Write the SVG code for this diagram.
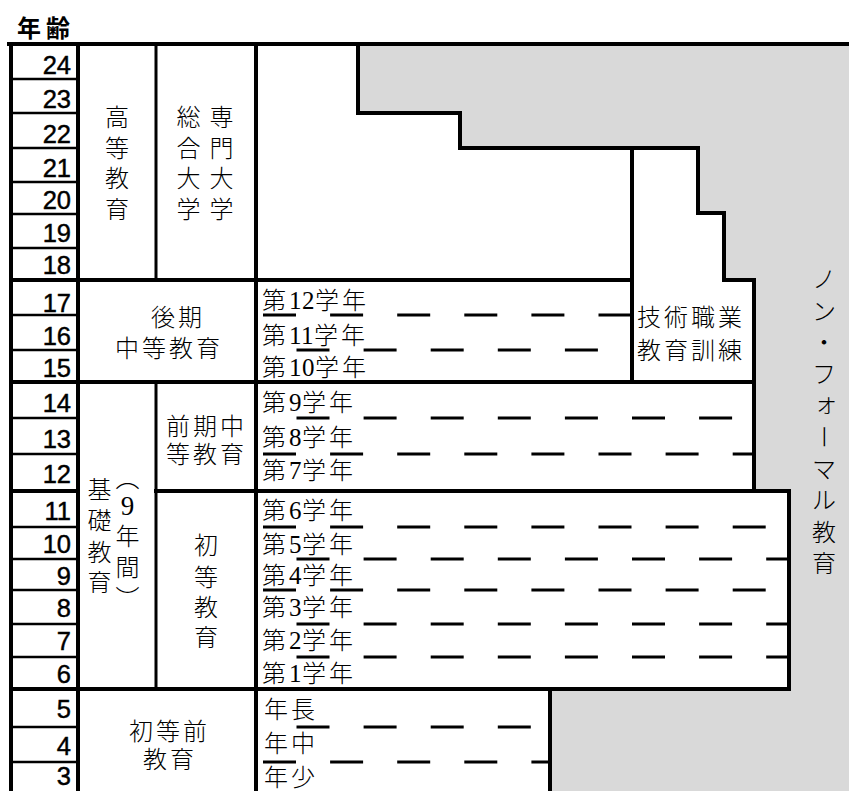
<svg xmlns="http://www.w3.org/2000/svg" width="849" height="791" viewBox="0 0 849 791">
<style>
.jp{font-family:"Liberation Serif","Noto Sans CJK JP",serif;font-size:24px;font-weight:300;letter-spacing:3px;fill:#000}
.d{letter-spacing:0.5px;font-size:25px}
.v{font-family:"Liberation Serif","Noto Sans CJK JP",serif;font-size:24px;font-weight:300;text-anchor:middle;fill:#000}
.age{font-family:"Liberation Sans",Arial,sans-serif;font-size:25.5px;text-anchor:end;fill:#000;stroke:#000;stroke-width:0.45}
.title{font-family:"Noto Sans CJK JP",sans-serif;font-size:24px;font-weight:700;letter-spacing:5px;fill:#000}
.thick{stroke:#000;stroke-width:4;fill:none;stroke-linecap:square}
.thin{stroke:#000;stroke-width:3;fill:none}
.row{stroke:#000;stroke-width:2.5;fill:none}
.dash{stroke:#000;stroke-width:3;stroke-dasharray:33 34.1;fill:none}
</style>
<rect width="849" height="791" fill="#fff"/>
<g id="non-formal-area">
<polygon points="358,44 849,44 849,791 550,791 550,689 789,689 789,491 754,491 754,280 724,280 724,213 698,213 698,148 460,148 460,113 358,113" fill="#d9d9d9"/>
</g>
<g id="connectors">
<path class="row" d="M11 79H78M11 113H78M11 148H78M11 182H78M11 214H78M11 248H78M11 315H78M11 350H78M11 418H78M11 454H78M11 527H78M11 559H78M11 590H78M11 624H78M11 657H78M11 727H78M11 762H78"/>
<path class="thin" d="M156 44V280M156 382V689"/>
<path class="thick" d="M9 44H849M11 44V791M78 44V791M256 44V791M11 280H632M11 382H754M11 491H78M156 491H789M11 689H789M358 44V113H460V148H698V213H724V280H754V491H789V689M550 689V791M632 148V382"/>
<path class="dash" d="M263 315H630M263 454H752M263 527H787M263 590H787M263 762H548"/>
<path class="dash" d="M296.5 350H630M296.5 418H752M296.5 559H787M296.5 624H787M296.5 657H787M296.5 727H548"/>
</g>
<g id="age-axis">
<text class="title" x="17" y="37">年齢</text>
<text class="age" x="71" y="73.5">24</text>
<text class="age" x="71" y="107.5">23</text>
<text class="age" x="71" y="142.5">22</text>
<text class="age" x="71" y="177">21</text>
<text class="age" x="71" y="208.5">20</text>
<text class="age" x="71" y="242">19</text>
<text class="age" x="71" y="274">18</text>
<text class="age" x="71" y="311.5">17</text>
<text class="age" x="71" y="345">16</text>
<text class="age" x="71" y="377">15</text>
<text class="age" x="71" y="412">14</text>
<text class="age" x="71" y="448">13</text>
<text class="age" x="71" y="483">12</text>
<text class="age" x="71" y="520">11</text>
<text class="age" x="71" y="553">10</text>
<text class="age" x="71" y="585">9</text>
<text class="age" x="71" y="617">8</text>
<text class="age" x="71" y="650">7</text>
<text class="age" x="71" y="683">6</text>
<text class="age" x="71" y="718">5</text>
<text class="age" x="71" y="755">4</text>
<text class="age" x="71" y="785">3</text>
</g>
<g id="higher-education">
<text class="v" x="117" y="126">高</text>
<text class="v" x="117" y="156.5">等</text>
<text class="v" x="117" y="187">教</text>
<text class="v" x="117" y="218">育</text>
</g>
<g id="universities">
<text class="v" x="188.5" y="126">総</text>
<text class="v" x="188.5" y="156.5">合</text>
<text class="v" x="188.5" y="187">大</text>
<text class="v" x="188.5" y="218">学</text>
<text class="v" x="221.5" y="126">専</text>
<text class="v" x="221.5" y="156.5">門</text>
<text class="v" x="221.5" y="187">大</text>
<text class="v" x="221.5" y="218">学</text>
</g>
<g id="upper-secondary">
<text class="jp" x="151" y="326">後期</text>
<text class="jp" x="115" y="357">中等教育</text>
</g>
<g id="grades-10-12">
<text class="jp" x="262" y="309">第<tspan class="d">12</tspan>学年</text>
<text class="jp" x="262" y="344">第<tspan class="d">11</tspan>学年</text>
<text class="jp" x="262" y="376">第<tspan class="d">10</tspan>学年</text>
</g>
<g id="tvet">
<text class="jp" x="637" y="326">技術職業</text>
<text class="jp" x="637" y="359">教育訓練</text>
</g>
<g id="basic-education">
<text class="v" x="99.5" y="498">基</text>
<text class="v" x="99.5" y="529">礎</text>
<text class="v" x="99.5" y="561">教</text>
<text class="v" x="99.5" y="591">育</text>
<text class="v" x="127.5" y="487">︵</text>
<text class="v" x="127.5" y="515" style="font-size:27px">9</text>
<text class="v" x="127.5" y="545">年</text>
<text class="v" x="127.5" y="576">間</text>
<text class="v" x="127.5" y="607">︶</text>
</g>
<g id="lower-secondary">
<text class="jp" x="166" y="435">前期中</text>
<text class="jp" x="166" y="463">等教育</text>
</g>
<g id="grades-7-9">
<text class="jp" x="262" y="411">第<tspan class="d">9</tspan>学年</text>
<text class="jp" x="262" y="446">第<tspan class="d">8</tspan>学年</text>
<text class="jp" x="262" y="479">第<tspan class="d">7</tspan>学年</text>
</g>
<g id="primary">
<text class="v" x="206" y="554">初</text>
<text class="v" x="206" y="586">等</text>
<text class="v" x="206" y="616">教</text>
<text class="v" x="206" y="646">育</text>
</g>
<g id="grades-1-6">
<text class="jp" x="262" y="519">第<tspan class="d">6</tspan>学年</text>
<text class="jp" x="262" y="553">第<tspan class="d">5</tspan>学年</text>
<text class="jp" x="262" y="584">第<tspan class="d">4</tspan>学年</text>
<text class="jp" x="262" y="616">第<tspan class="d">3</tspan>学年</text>
<text class="jp" x="262" y="649">第<tspan class="d">2</tspan>学年</text>
<text class="jp" x="262" y="682">第<tspan class="d">1</tspan>学年</text>
</g>
<g id="pre-primary">
<text class="jp" x="129" y="740">初等前</text>
<text class="jp" x="143" y="768">教育</text>
</g>
<g id="kindergarten">
<text class="jp" x="264" y="718">年長</text>
<text class="jp" x="264" y="752">年中</text>
<text class="jp" x="264" y="786">年少</text>
</g>
<g id="non-formal">
<text class="v" x="824" y="288">ノ</text>
<text class="v" x="824" y="319.5">ン</text>
<text class="v" x="824" y="351">・</text>
<text class="v" x="824" y="382.5">フ</text>
<text class="v" x="826" y="412">ォ</text>
<text class="v" x="824" y="445.8" transform="rotate(90 824 436.8)">ー</text>
<text class="v" x="824" y="477.5">マ</text>
<text class="v" x="824" y="509">ル</text>
<text class="v" x="824" y="540.5">教</text>
<text class="v" x="824" y="572">育</text>
</g>
</svg>
